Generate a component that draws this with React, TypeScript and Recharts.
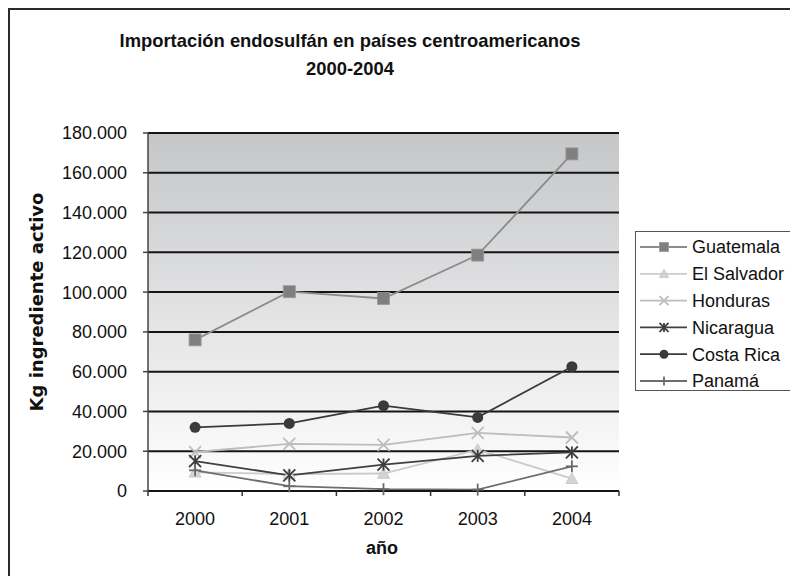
import React from 'react'
import {
  CartesianGrid,
  Legend,
  Line,
  LineChart,
  XAxis,
  YAxis
} from 'recharts'

const years = ['2000', '2001', '2002', '2003', '2004']
const guatemala = [76000, 100200, 96800, 118600, 169500]
const elSalvador = [9400, 8500, 8800, 20800, 6200]
const honduras = [19600, 23700, 23200, 29200, 26900]
const nicaragua = [15000, 7900, 13300, 17700, 19400]
const costaRica = [32000, 34000, 42900, 37000, 62500]
const panama = [10400, 2400, 900, 700, 12400]
const yTicks = [0, 20000, 40000, 60000, 80000, 100000, 120000, 140000, 160000, 180000]

const W = 788
const H = 566
const MARGIN = { top: 123, right: 179, bottom: 55, left: 58 }
const Y_AXIS_W = 80
const X_AXIS_H = 30
const PLOT_W = W - MARGIN.left - MARGIN.right - Y_AXIS_W
const BAND = PLOT_W / years.length

const FONT = "'Liberation Sans', Arial, sans-serif"

type Shape = 'square' | 'triangle' | 'x' | 'asterisk' | 'circle' | 'plus'

const series: { key: string; name: string; line: string; mark: string; shape: Shape }[] = [
  { key: 'guatemala', name: 'Guatemala', line: '#8c8c8c', mark: '#7f7f7f', shape: 'square' },
  { key: 'elSalvador', name: 'El Salvador', line: '#cbcbcb', mark: '#d4d4d4', shape: 'triangle' },
  { key: 'honduras', name: 'Honduras', line: '#bdbdbd', mark: '#bdbdbd', shape: 'x' },
  { key: 'nicaragua', name: 'Nicaragua', line: '#404040', mark: '#3c3c3c', shape: 'asterisk' },
  { key: 'costaRica', name: 'Costa Rica', line: '#3a3a3a', mark: '#3a3a3a', shape: 'circle' },
  { key: 'panama', name: 'Panamá', line: '#6e6e6e', mark: '#6a6a6a', shape: 'plus' }
]

const data = years.map((year, i) => ({
  year,
  guatemala: guatemala[i],
  elSalvador: elSalvador[i],
  honduras: honduras[i],
  nicaragua: nicaragua[i],
  costaRica: costaRica[i],
  panama: panama[i]
}))

const fmt = (v: number) => (v === 0 ? '0' : `${Math.round(v / 1000)}.000`)

const Marker = ({ shape, cx, cy, color, s }: { shape: Shape; cx: number; cy: number; color: string; s: number }) => {
  const h = s / 2
  switch (shape) {
    case 'square':
      return <rect x={cx - h} y={cy - h} width={s} height={s} fill={color} stroke='#9a9a9a' strokeWidth={0.8} />
    case 'triangle':
      return (
        <polygon
          points={`${cx},${cy - h} ${cx + h},${cy + h * 0.8} ${cx - h},${cy + h * 0.8}`}
          fill={color}
          stroke='#c4c4c4'
          strokeWidth={0.8}
        />
      )
    case 'x':
      return (
        <g stroke={color} strokeWidth={1.8}>
          <line x1={cx - h} y1={cy - h} x2={cx + h} y2={cy + h} />
          <line x1={cx - h} y1={cy + h} x2={cx + h} y2={cy - h} />
        </g>
      )
    case 'asterisk':
      return (
        <g stroke={color} strokeWidth={1.8}>
          <line x1={cx - h} y1={cy - h} x2={cx + h} y2={cy + h} />
          <line x1={cx - h} y1={cy + h} x2={cx + h} y2={cy - h} />
          <line x1={cx} y1={cy - h} x2={cx} y2={cy + h} />
        </g>
      )
    case 'circle':
      return <circle cx={cx} cy={cy} r={h} fill={color} />
    case 'plus':
      return (
        <g stroke={color} strokeWidth={1.8}>
          <line x1={cx - h} y1={cy} x2={cx + h} y2={cy} />
          <line x1={cx} y1={cy - h} x2={cx} y2={cy + h} />
        </g>
      )
  }
  return null
}

const dotFor = (shape: Shape, color: string, s: number) => (props: any) => (
  <Marker key={`${shape}-${props.index}`} shape={shape} cx={props.cx} cy={props.cy} color={color} s={s} />
)

const XTick = (props: any) => {
  const { x, y, payload, index } = props
  const axisY = y - 21
  return (
    <g>
      <line x1={x - BAND / 2} x2={x - BAND / 2} y1={axisY} y2={axisY + 5} stroke='#333' strokeWidth={1.5} />
      {index === years.length - 1 && (
        <line x1={x + BAND / 2} x2={x + BAND / 2} y1={axisY} y2={axisY + 5} stroke='#333' strokeWidth={1.5} />
      )}
      <text x={x} y={y} dy='0.71em' textAnchor='middle' fill='#111' fontSize={18} fontFamily={FONT}>
        {payload.value}
      </text>
    </g>
  )
}

const LegendBox = () => (
  <div
    style={{
      border: '1px solid #555',
      borderRight: 'none',
      background: '#fff',
      height: 160,
      width: 170,
      boxSizing: 'border-box'
    }}
  >
    <svg width={170} height={158}>
      {series.map((s, i) => {
        const cy = 15 + i * 26.8
        return (
          <g key={s.key}>
            <line x1={4} x2={51} y1={cy} y2={cy} stroke={s.line} strokeWidth={1.8} />
            <Marker shape={s.shape} cx={28} cy={cy} color={s.mark} s={9} />
            <text x={56} y={cy} dy='0.36em' fontSize={18} fontFamily={FONT} fill='#111'>
              {s.name}
            </text>
          </g>
        )
      })}
    </svg>
  </div>
)

export default function App() {
  return (
    <div
      style={{
        position: 'relative',
        width: W,
        height: H,
        borderLeft: '2px solid #2a2a2a',
        borderTop: '2px solid #2a2a2a',
        background: '#fff',
        overflow: 'hidden'
      }}
    >
      <LineChart width={W} height={H} data={data} margin={MARGIN}>
        <defs>
          <linearGradient id='plotBg' x1='0' y1='0' x2='0' y2='1'>
            <stop offset='0%' stopColor='#c5c6c8' />
            <stop offset='100%' stopColor='#ffffff' />
          </linearGradient>
        </defs>
        <CartesianGrid
          vertical={false}
          stroke='#151515'
          strokeWidth={2}
          fill='url(#plotBg)'
          fillOpacity={1}
        />
        <XAxis
          dataKey='year'
          height={X_AXIS_H}
          padding={{ left: BAND / 2, right: BAND / 2 }}
          axisLine={{ stroke: '#151515', strokeWidth: 2 }}
          tickLine={false}
          tickSize={5}
          tickMargin={16}
          tick={<XTick />}
          interval={0}
        />
        <YAxis
          width={Y_AXIS_W}
          domain={[0, 180000]}
          ticks={yTicks}
          tickFormatter={fmt}
          axisLine={{ stroke: '#444', strokeWidth: 1.5 }}
          tickLine={{ stroke: '#444', strokeWidth: 1.5 }}
          tickSize={5}
          tickMargin={16}
          tick={{ fill: '#111', fontSize: 18, fontFamily: FONT }}
          interval={0}
        />
        <Legend
          layout='horizontal'
          verticalAlign='middle'
          content={() => <LegendBox />}
          wrapperStyle={{ left: 625, top: 221, width: 170 }}
        />
        {series.map((s) => (
          <Line
            key={s.key}
            type='linear'
            dataKey={s.key}
            name={s.name}
            stroke={s.line}
            strokeWidth={1.8}
            dot={dotFor(s.shape, s.mark, s.shape === 'circle' ? 11 : 12)}
            activeDot={false}
            isAnimationActive={false}
          />
        ))}
      </LineChart>
      <svg
        width={W}
        height={H}
        style={{ position: 'absolute', left: 0, top: 0, pointerEvents: 'none' }}
      >
        <text x={340} y={37} textAnchor='middle' fontSize={18.4} fontWeight='bold' fontFamily={FONT} fill='#111'>
          Importación endosulfán en países centroamericanos
        </text>
        <text x={340} y={65} textAnchor='middle' fontSize={18.4} fontWeight='bold' fontFamily={FONT} fill='#111'>
          2000-2004
        </text>
        <text
          x={33}
          y={292}
          transform='rotate(-90, 33, 292)'
          textAnchor='middle'
          fontSize={18}
          fontWeight='bold'
          fontFamily="'DejaVu Sans', Verdana, sans-serif"
          fill='#111'
        >
          Kg ingrediente activo
        </text>
        <text x={372} y={544} textAnchor='middle' fontSize={18} fontWeight='bold' fontFamily={FONT} fill='#111'>
          año
        </text>
      </svg>
    </div>
  )
}
